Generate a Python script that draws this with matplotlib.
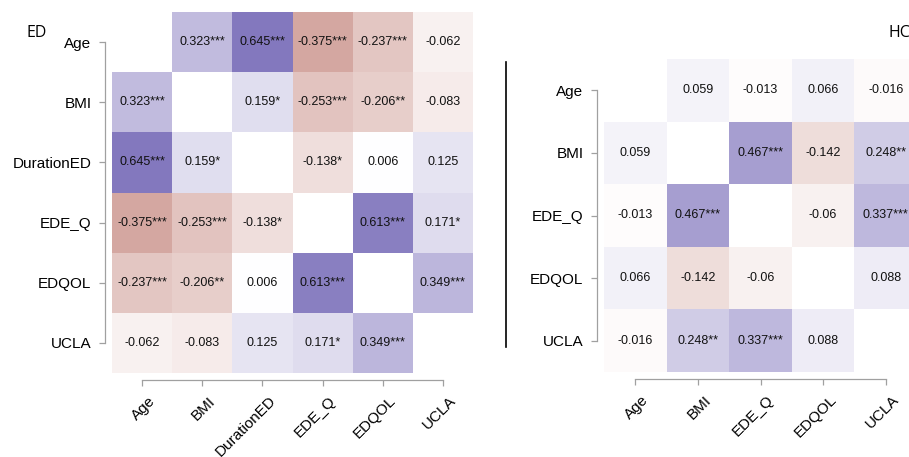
import numpy as np
import matplotlib.pyplot as plt
import matplotlib.transforms as mtrans
from matplotlib.colors import LinearSegmentedColormap

plt.rcParams['font.family'] = ['Liberation Sans', 'DejaVu Sans']

# ED group : upper triangle, row by row
vars_ed = ["Age", "BMI", "DurationED", "EDE_Q", "EDQOL", "UCLA"]
r_ed = [0.323, 0.645, -0.375, -0.237, -0.062,
        0.159, -0.253, -0.206, -0.083,
        -0.138, 0.006, 0.125,
        0.613, 0.171,
        0.349]
stars_ed = ["***", "***", "***", "***", "",
            "*", "***", "**", "",
            "*", "", "",
            "***", "*",
            "***"]

# HC group
vars_hc = ["Age", "BMI", "EDE_Q", "EDQOL", "UCLA"]
r_hc = [0.059, -0.013, 0.066, -0.016,
        0.467, -0.142, 0.248,
        -0.06, 0.337,
        0.088]
stars_hc = ["", "", "", "",
            "***", "", "**",
            "", "***",
            ""]

cmap = LinearSegmentedColormap.from_list("rp", ["#8c1202", "#ffffff", "#402f9a"])
grey = "#a0a0a0"


def build(names, r, stars):
    n = len(names)
    M = np.full((n, n), np.nan)
    L = [["" for _ in range(n)] for _ in range(n)]
    k = 0
    for i in range(n):
        for j in range(i + 1, n):
            M[i, j] = M[j, i] = r[k]
            L[i][j] = L[j][i] = str(round(r[k], 3)) + stars[k]
            k += 1
    return M, L


def draw(ax, names, r, stars):
    M, L = build(names, r, stars)
    n = len(names)
    ax.pcolormesh(np.ma.masked_invalid(M), cmap=cmap, vmin=-1, vmax=1)
    for i in range(n):
        for j in range(n):
            if L[i][j]:
                ax.text(j + 0.5, i + 0.5, L[i][j], ha="center", va="center",
                        fontsize=9, color="#111111")
    ax.set_xlim(0, n)
    ax.set_ylim(n, 0)
    for s in ["top", "right"]:
        ax.spines[s].set_visible(False)
    for s in ["left", "bottom"]:
        ax.spines[s].set_position(("outward", 5))
        ax.spines[s].set_bounds(0.5, n - 0.5)
        ax.spines[s].set_color(grey)
        ax.spines[s].set_linewidth(0.9)
    ax.tick_params(length=4.3, width=0.9, color=grey, labelsize=11, pad=5.5)
    ax.set_xticks(np.arange(n) + 0.5)
    ax.set_yticks(np.arange(n) + 0.5)
    ax.set_yticklabels(names)
    ax.set_xticklabels(names)
    off = mtrans.ScaledTranslation(6 / 100, 0, ax.figure.dpi_scale_trans)
    for lab in ax.get_xticklabels():
        lab.set_rotation(45)
        lab.set_ha("right")
        lab.set_va("top")
        lab.set_rotation_mode("anchor")
        lab.set_transform(lab.get_transform() + off)


fig = plt.figure(figsize=(9.09, 4.57), dpi=100)

ax1 = fig.add_axes([112 / 909, 84 / 457, 361 / 909, 361 / 457])
draw(ax1, vars_ed, r_ed, stars_ed)

ax2 = fig.add_axes([604 / 909, 85 / 457, 313 / 909, 313 / 457])
draw(ax2, vars_hc, r_hc, stars_hc)

fig.text(27 / 909, 1 - 33 / 457, "ED", fontsize=11.5, family="Open Sans", va="center")
fig.text(888 / 909, 1 - 33 / 457, "HC", fontsize=11.5, family="Open Sans", va="center")
fig.add_artist(plt.Line2D([506 / 909, 506 / 909], [1 - 62 / 457, 1 - 347 / 457],
                          color="black", linewidth=1.2))

fig.savefig("out.png", dpi=100)
